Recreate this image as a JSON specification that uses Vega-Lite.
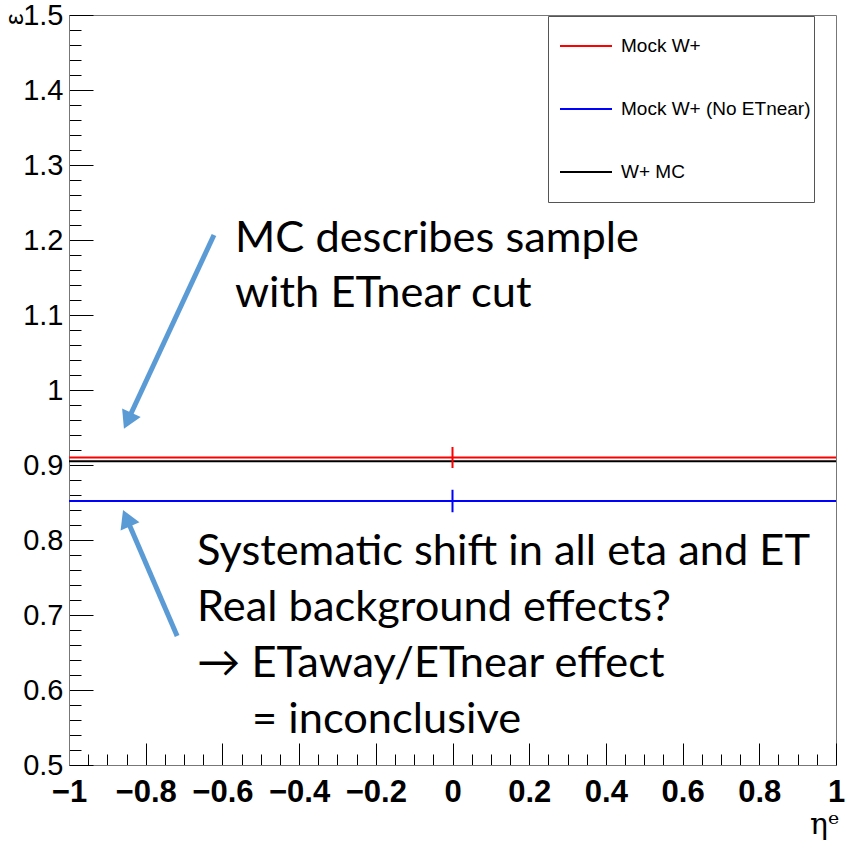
{
  "$schema": "https://vega.github.io/schema/vega-lite/v6.json",
  "width": 767,
  "height": 750,
  "autosize": {"type": "none"},
  "padding": {"left": 69, "top": 15, "right": 11, "bottom": 78},
  "background": "white",
  "config": {
    "view": {"stroke": "#777777", "strokeWidth": 1},
    "font": "Liberation Sans"
  },
  "datasets": {
    "series": [
      {"series": "Mock W+", "eff": 0.910, "lo": 0.896, "hi": 0.924, "xlo": -1, "xhi": 1, "xc": 0},
      {"series": "Mock W+ (No ETnear)", "eff": 0.852, "lo": 0.837, "hi": 0.867, "xlo": -1, "xhi": 1, "xc": 0},
      {"series": "W+ MC", "eff": 0.905, "lo": 0.905, "hi": 0.905, "xlo": -1, "xhi": 1, "xc": 0}
    ],
    "notes": [
      {"x": -0.5671, "y": 1.184, "text": "MC describes sample"},
      {"x": -0.5671, "y": 1.1107, "text": "with ETnear cut"},
      {"x": -0.6662, "y": 0.7667, "text": "Systematic shift in all eta and ET"},
      {"x": -0.6662, "y": 0.692, "text": "Real background effects?"},
      {"x": -0.6662, "y": 0.6173, "text": "→ ETaway/ETnear effect"},
      {"x": -0.5228, "y": 0.5427, "text": "= inconclusive"}
    ],
    "arrows": [
      {"arrow": "top", "x": -0.622, "y": 1.2067, "x2": -0.847, "y2": 0.959},
      {"arrow": "bottom", "x": -0.718, "y": 0.672, "x2": -0.850, "y2": 0.829}
    ]
  },
  "layer": [
    {
      "data": {"name": "series"},
      "mark": {"type": "rule", "strokeWidth": 2},
      "encoding": {
        "x": {
          "field": "xlo", "type": "quantitative",
          "scale": {"domain": [-1, 1], "nice": false, "zero": false},
          "axis": {
            "values": [-1,-0.95,-0.9,-0.85,-0.8,-0.75,-0.7,-0.65,-0.6,-0.55,-0.5,-0.45,-0.4,-0.35,-0.3,-0.25,-0.2,-0.15,-0.1,-0.05,0,0.05,0.1,0.15,0.2,0.25,0.3,0.35,0.4,0.45,0.5,0.55,0.6,0.65,0.7,0.75,0.8,0.85,0.9,0.95,1],
            "tickCount": 500,
            "labelExpr": "abs(datum.value*5 - round(datum.value*5)) < 0.001 ? format(datum.value, '~g') : ''",
            "tickSize": {"condition": {"test": "abs(datum.value*5 - round(datum.value*5)) < 0.001", "value": -22}, "value": -11},
            "tickColor": "black",
            "domainColor": "#777777",
            "grid": false,
            "labelFont": "Liberation Sans",
            "labelFontWeight": "bold",
            "labelFontSize": 31,
            "labelColor": "black",
            "labelPadding": 34,
            "labelBaseline": "top",
            "labelFlush": false,
            "labelOverlap": false,
            "title": "ηᵉ",
            "titleFont": "DejaVu Serif",
            "titleFontSize": 30,
            "titleFontWeight": "normal",
            "titleColor": "black",
            "titleAnchor": "end",
            "titleAlign": "right",
            "titleBaseline": "alphabetic",
            "titleX": 770,
            "titleY": 68
          }
        },
        "x2": {"field": "xhi"},
        "y": {
          "field": "eff", "type": "quantitative",
          "scale": {"domain": [0.5, 1.5], "nice": false, "zero": false},
          "axis": {
            "values": [0.5,0.52,0.54,0.56,0.58,0.6,0.62,0.64,0.66,0.68,0.7,0.72,0.74,0.76,0.78,0.8,0.82,0.84,0.86,0.88,0.9,0.92,0.94,0.96,0.98,1,1.02,1.04,1.06,1.08,1.1,1.12,1.14,1.16,1.18,1.2,1.22,1.24,1.26,1.28,1.3,1.32,1.34,1.36,1.38,1.4,1.42,1.44,1.46,1.48,1.5],
            "tickCount": 500,
            "labelExpr": "abs(datum.value*10 - round(datum.value*10)) < 0.001 ? format(datum.value, '~g') : ''",
            "tickSize": {"condition": {"test": "abs(datum.value*10 - round(datum.value*10)) < 0.001", "value": -24}, "value": -12},
            "tickColor": "black",
            "domainColor": "#777777",
            "grid": false,
            "labelFont": "Liberation Sans",
            "labelFontSize": 29,
            "labelColor": "black",
            "labelPadding": 30,
            "labelFlush": false,
            "labelOverlap": false,
            "title": "ε",
            "titleFont": "Liberation Sans",
            "titleFontSize": 26,
            "titleFontWeight": "normal",
            "titleColor": "black",
            "titleAngle": -90,
            "titleAlign": "right",
            "titleBaseline": "alphabetic",
            "titleX": -47,
            "titleY": -2
          }
        },
        "color": {
          "field": "series", "type": "nominal",
          "scale": {"domain": ["Mock W+", "Mock W+ (No ETnear)", "W+ MC"], "range": ["#ff0000", "#0000ff", "#000000"]},
          "legend": {
            "orient": "none",
            "legendX": 479,
            "legendY": 1,
            "title": "\u00a0",
            "titleOrient": "bottom",
            "titleFontSize": 12,
            "titlePadding": 6,
            "symbolType": "stroke",
            "symbolSize": 2704,
            "symbolStrokeWidth": 2,
            "symbolOffset": 8,
            "labelFont": "Liberation Sans",
            "labelFontSize": 19,
            "labelColor": "black",
            "labelOffset": 8,
            "labelLimit": 400,
            "labelExpr": "datum.label + '\u00a0\u00a0\u00a0\u00a0\u00a0\u00a0\u00a0\u00a0\u00a0\u00a0'",
            "padding": 3,
            "rowPadding": 26,
            "strokeColor": "#555555",
            "fillColor": "white"
          }
        }
      }
    },
    {
      "data": {"name": "series"},
      "mark": {"type": "rule", "strokeWidth": 2},
      "encoding": {
        "x": {"field": "xc", "type": "quantitative"},
        "y": {"field": "lo", "type": "quantitative"},
        "y2": {"field": "hi"},
        "color": {"field": "series", "type": "nominal", "legend": null}
      }
    },
    {
      "data": {"name": "arrows"},
      "mark": {"type": "rule", "strokeWidth": 5, "color": "#5B9BD5"},
      "encoding": {
        "x": {"field": "x", "type": "quantitative"},
        "y": {"field": "y", "type": "quantitative"},
        "x2": {"field": "x2"},
        "y2": {"field": "y2"}
      }
    },
    {
      "data": {"name": "arrows"},
      "transform": [{"filter": "datum.arrow == 'top'"}],
      "mark": {"type": "point", "shape": "triangle-up", "filled": true, "color": "#5B9BD5", "opacity": 1, "size": 420, "angle": 204.9},
      "encoding": {
        "x": {"field": "x2", "type": "quantitative"},
        "y": {"field": "y2", "type": "quantitative"}
      }
    },
    {
      "data": {"name": "arrows"},
      "transform": [{"filter": "datum.arrow == 'bottom'"}],
      "mark": {"type": "point", "shape": "triangle-up", "filled": true, "color": "#5B9BD5", "opacity": 1, "size": 420, "angle": 336.8},
      "encoding": {
        "x": {"field": "x2", "type": "quantitative"},
        "y": {"field": "y2", "type": "quantitative"}
      }
    },
    {
      "data": {"name": "notes"},
      "mark": {"type": "text", "font": "Lato", "fontSize": 43.4, "align": "left", "baseline": "alphabetic", "color": "black"},
      "encoding": {
        "x": {"field": "x", "type": "quantitative"},
        "y": {"field": "y", "type": "quantitative"},
        "text": {"field": "text"}
      }
    }
  ]
}
